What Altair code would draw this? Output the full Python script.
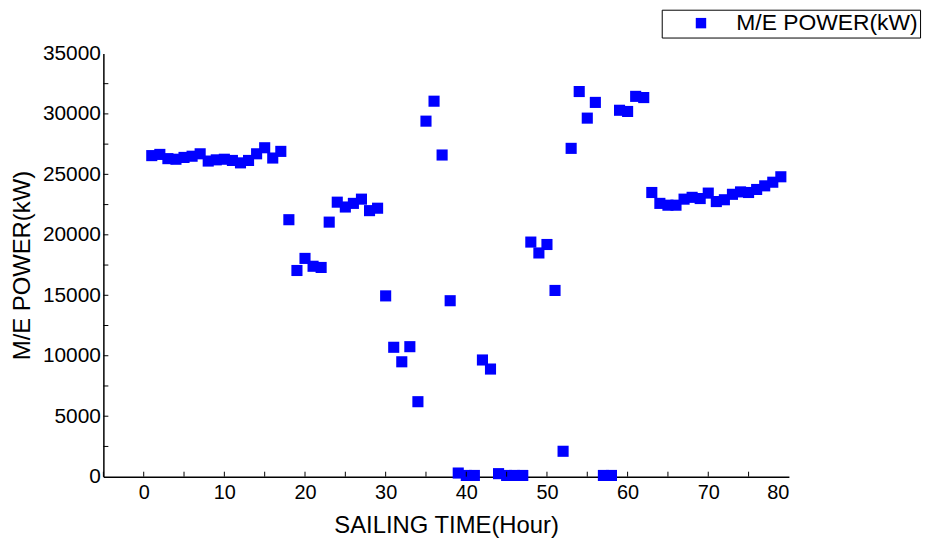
import altair as alt
import pandas as pd

hours = list(range(1, 80))
power = [
    26550, 26650, 26300, 26250, 26400, 26500, 26700, 26100, 26200, 26250,
    26150, 25950, 26150, 26700, 27200, 26350, 26900, 21250, 17050, 18050,
    17400, 17300, 21050, 22700, 22300, 22600, 22950, 22000, 22200, 14950,
    10700, 9500, 10750, 6200, 29400, 31050, 26600, 14550, 300, 100,
    100, 9650, 8900, 250, 100, 100, 100, 19400, 18500, 19200,
    15400, 2100, 27150, 31850, 29650, 30950, 100, 100, 30300, 30200,
    31450, 31350, 23500, 22600, 22450, 22450, 22950, 23100, 23000, 23450,
    22750, 22900, 23350, 23550, 23500, 23750, 24050, 24350, 24800,
]
series_name = "M/E POWER(kW)"
x_labels = [0, 10, 20, 30, 40, 50, 60, 70, 80]
y_labels = [0, 5000, 10000, 15000, 20000, 25000, 30000, 35000]
x_minor = [-5, 0, 5, 10, 15, 20, 25, 30, 35, 40, 45, 50, 55, 60, 65, 70, 75]
y_minor = [2500, 5000, 7500, 10000, 12500, 15000, 17500, 20000, 22500,
           25000, 27500, 30000, 32500]

df = pd.DataFrame({"hour": hours, "power": power, "series": series_name})
xt = pd.DataFrame({"t": x_minor})
yt = pd.DataFrame({"t": y_minor})

W, H = 690, 426
FONT = "Liberation Sans"

xscale = alt.Scale(domain=[-5, 80], nice=False, zero=False)
yscale = alt.Scale(domain=[0, 35000], nice=False)

points = alt.Chart(df).mark_square(size=125, opacity=1, filled=True).encode(
    x=alt.X("hour:Q", scale=xscale,
            axis=alt.Axis(values=x_labels, title="SAILING TIME(Hour)", ticks=False,
                          grid=False, labelPadding=6, titlePadding=11, format="d")),
    y=alt.Y("power:Q", scale=yscale,
            axis=alt.Axis(values=y_labels, title="M/E POWER(kW)", ticks=False,
                          grid=False, labelPadding=3, titlePadding=8, format="d",
                          labelFontSize=21)),
    color=alt.Color("series:N", scale=alt.Scale(range=["#0000ff"]),
                    legend=alt.Legend(title=None, orient="none", legendX=562, legendY=-44,
                                      symbolType="square", symbolSize=110,
                                      symbolOffset=26, labelOffset=24,
                                      padding=2, strokeColor="black",
                                      fillColor="white",
                                      labelFont=FONT, labelFontSize=23,
                                      labelColor="black", labelLimit=400)),
)

xticks = alt.Chart(xt).mark_rule(color="black", strokeWidth=1).encode(
    x=alt.X("t:Q", scale=xscale), y=alt.value(H), y2=alt.value(H - 5)
)
yticks = alt.Chart(yt).mark_rule(color="black", strokeWidth=1).encode(
    y=alt.Y("t:Q", scale=yscale), x=alt.value(0), x2=alt.value(5)
)

chart = alt.layer(points, xticks, yticks).properties(
    width=W, height=H,
    autosize=alt.AutoSizeParams(type="none"),
    padding={"left": 96, "top": 44, "right": 140, "bottom": 60},
).configure_view(stroke=None).configure_axis(
    domainColor="black", domainWidth=1.5,
    labelFont=FONT, labelFontSize=20, labelColor="black",
    titleFont=FONT, titleFontSize=24, titleColor="black", titleFontWeight="normal",
).configure_axisX(labelBaseline="top")

chart.save("out.html", embed_options={"renderer": "svg", "actions": False})
